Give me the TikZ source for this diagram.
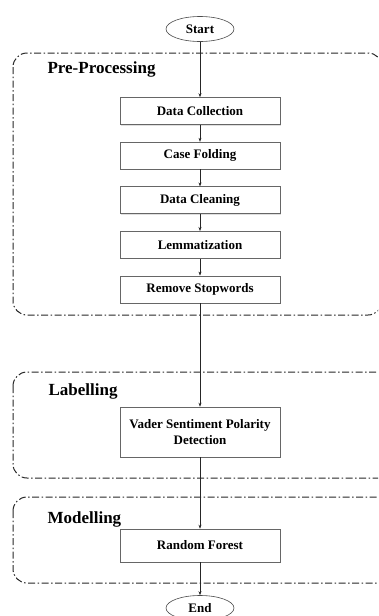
\documentclass[tikz,border=0pt]{standalone}
\usepackage{fontspec}
\setmainfont{Liberation Serif}
\usetikzlibrary{positioning,shapes.geometric,arrows.meta,shadows}

\begin{document}
\begin{tikzpicture}
      [ x=1pt, y=1pt, node distance=17pt,
        process/.style={draw=black!60, fill=white, line width=0.6pt,
          minimum width=160pt, minimum height=27pt, inner sep=2pt,
          font=\bfseries\fontsize{13}{16}\selectfont,
          drop shadow={shadow xshift=1pt, shadow yshift=-1pt, opacity=0.25}},
        terminal/.style={ellipse, draw=black!70, fill=white, line width=0.6pt,
          minimum width=68pt, minimum height=25pt, inner sep=1pt,
          font=\bfseries\fontsize{13}{16}\selectfont},
        stage/.style={draw=black!85, line width=1pt, rounded corners=14pt,
          dash pattern=on 7pt off 2.5pt on 1.5pt off 2.5pt},
        stagetitle/.style={anchor=west, font=\bfseries\fontsize{17}{19}\selectfont},
        flow/.style={-{Stealth[length=4pt,width=3pt]}, color=black!85, line width=0.5pt}
      ]
      \useasboundingbox (0,0) rectangle (378,-616);
      \clip (0,0) rectangle (378,-616);

      % stages
      \draw[stage] (13,-53)  rectangle (382,-315);
      \draw[stage] (13,-372) rectangle (395,-478);
      \draw[stage] (13,-497) rectangle (395,-583);
      \node[stagetitle] (pretitle) at (44,-69)  {Pre-Processing};
      \node[stagetitle] (labtitle) at (45,-391) {Labelling};
      \node[stagetitle] (modtitle) at (44,-519) {Modelling};

      % steps
      \node[terminal]  (start)    at (200,-29)             {Start};
      \node[process]   (collect)  at (200,-111)            {Data Collection};
      \node[process]   (folding)  [below=of collect]       {Case Folding};
      \node[process]   (cleaning) [below=of folding]       {Data Cleaning};
      \node[process]   (lemma)    [below=of cleaning]      {Lemmatization};
      \node[process]   (stopword) [below=of lemma]         {Remove Stopwords};
      \node[process, minimum height=50pt, align=center]
                       (vader)    at (200,-432)            {Vader Sentiment Polarity\\Detection};
      \node[process, minimum height=33pt]
                       (forest)   at (200,-545.5)          {Random Forest};
      \node[terminal]  (end)      at (200,-608)            {End};

      \path[flow] (start)    edge (collect)
                  (collect)  edge (folding)
                  (folding)  edge (cleaning)
                  (cleaning) edge (lemma)
                  (lemma)    edge (stopword)
                  (stopword) edge (vader)
                  (vader)    edge (forest)
                  (forest)   edge (end);
\end{tikzpicture}
\end{document}
